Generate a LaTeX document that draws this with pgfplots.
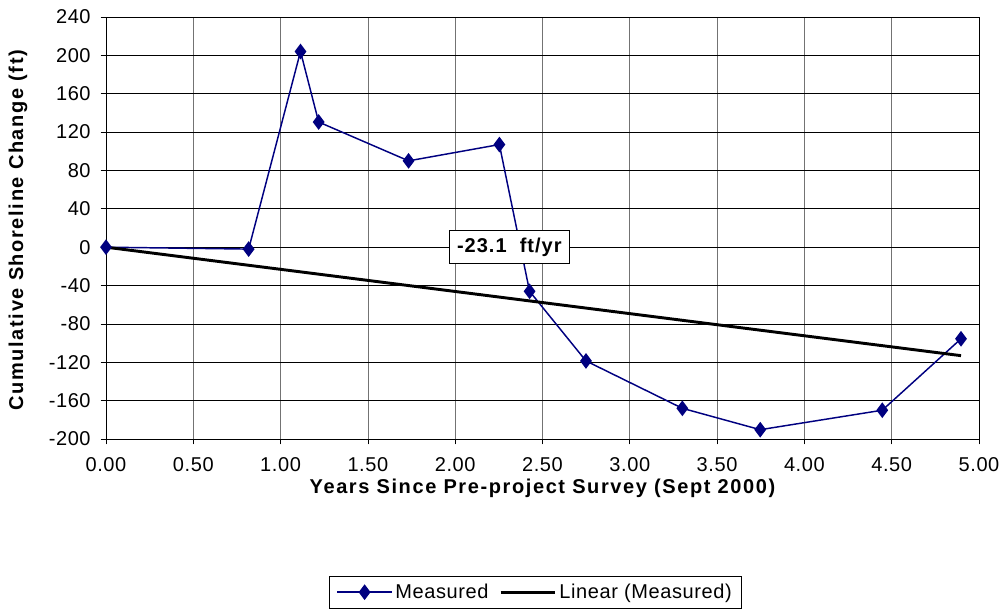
\documentclass[border=0pt]{standalone}
\usepackage{pgfplots}
\pgfplotsset{compat=1.18}
\usepackage{fontspec}
\setmainfont{Liberation Sans}
\definecolor{navyblue}{RGB}{0,0,128}
\newcommand{\tickfont}{\fontsize{15}{17}\selectfont\addfontfeature{LetterSpace=3}}
\newcommand{\labfont}{\fontsize{15}{17}\selectfont\bfseries\addfontfeature{LetterSpace=8}}

\begin{document}
\begin{tikzpicture}
\begin{axis}[
    scale only axis,
    width=654.75pt, height=316.5pt,
    xmin=0, xmax=5,
    ymin=-200, ymax=240,
    xtick={0,0.5,...,5},
    ytick={-200,-160,...,240},
    grid=major,
    x grid style={black!55, line width=0.6pt},
    y grid style={black, line width=0.6pt},
    axis line style={black, line width=0.6pt},
    tick align=outside,
    tick pos=left,
    major tick length=4pt,
    tick style={black, line width=0.6pt},
    font=\tickfont,
    /pgf/number format/assume math mode=true,
    xticklabel style={yshift=-6pt, /pgf/number format/.cd, fixed, fixed zerofill, precision=2},
    yticklabel style={xshift=-4pt, /pgf/number format/.cd, fixed},
    xlabel={\labfont Years Since Pre-project Survey (Sept 2000)},
    ylabel={\labfont Cumulative Shoreline Change (ft)},
    xlabel style={at={(axis description cs:0.5,-0.118)}, anchor=center},
    ylabel style={at={(axis description cs:-0.1008,0.495)}, anchor=center},
    legend columns=2,
    legend image code/.code={
        \draw[#1, mark=none] (0pt,0pt) -- (41pt,0pt);
        \draw[#1, only marks] plot coordinates {(20.5pt,0pt)};
    },
    legend style={at={(axis description cs:0.492,-0.363)}, anchor=center,
        draw=black, line width=0.6pt, font=\tickfont,
        /tikz/every even column/.append style={column sep=6pt},
        inner xsep=5pt, inner ysep=4pt},
    clip=false,
]
\addplot[navyblue, line width=1.1pt, mark=diamond*, mark size=5pt,
    mark options={fill=navyblue, draw=navyblue}]
    coordinates {
        (0.000,0)
        (0.817,-2)
        (1.114,204)
        (1.218,130.5)
        (1.733,90)
        (2.253,107)
        (2.426,-46)
        (2.749,-118.6)
        (3.301,-168)
        (3.747,-190.3)
        (4.446,-170)
        (4.897,-95.5)
    };
\addlegendentry{Measured}
\addplot[black, line width=2.2pt]
    coordinates {
        (0,0)
        (4.897,-113.1)
    };
\addlegendentry{Linear (Measured)}
\node[draw=black, fill=white, line width=0.8pt, inner xsep=6pt, inner ysep=5.5pt,
    font=\fontsize{15}{17}\selectfont\bfseries\addfontfeature{LetterSpace=5}]
    at (axis cs:2.31,0) {-23.1\ \ ft/yr};
\end{axis}
\pgfresetboundingbox
\path[use as bounding box] (current axis.south west) ++(-79.5pt,-130.5pt)
    rectangle ++(752.25pt,459.75pt);
\end{tikzpicture}
\end{document}
